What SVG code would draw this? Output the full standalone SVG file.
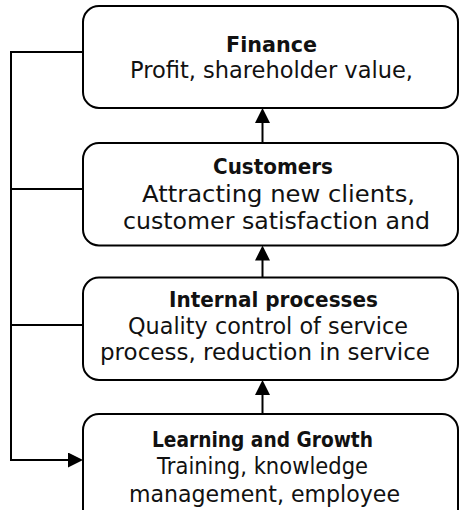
<svg xmlns="http://www.w3.org/2000/svg" width="459" height="510" viewBox="0 0 459 510">
<style>
.box{fill:#fff;stroke:#000;stroke-width:2}
.t{font-family:"DejaVu Sans","Liberation Sans",sans-serif;font-size:23px;fill:#111}
.b{font-family:"DejaVu Sans","Liberation Sans",sans-serif;font-size:21.5px;font-weight:bold;fill:#111}
.c{fill:none;stroke:#000;stroke-width:2}
</style>
<defs>
<marker id="ah" markerUnits="userSpaceOnUse" markerWidth="16" markerHeight="16" refX="12" refY="7.5" orient="auto">
<path d="M0,0 L15,7.5 L0,15 Z" fill="#000"/>
</marker>
</defs>
<g id="connectors">
<path class="c" d="M83,52 H11 V460 H80" marker-end="url(#ah)"/>
<path class="c" d="M83,189 H11"/>
<path class="c" d="M83,325 H11"/>
<path class="c" d="M262.5,143 V111" marker-end="url(#ah)"/>
<path class="c" d="M262.5,277.5 V248.5" marker-end="url(#ah)"/>
<path class="c" d="M262.5,414 V383" marker-end="url(#ah)"/>
</g>
<g id="finance">
<rect class="box" x="83" y="6" width="375" height="102" rx="16"/>
<text class="b" x="226" y="52" textLength="91" lengthAdjust="spacingAndGlyphs">Finance</text>
<text class="t" x="130" y="78" textLength="283" lengthAdjust="spacingAndGlyphs">Profit, shareholder value,</text>
</g>
<g id="customers">
<rect class="box" x="83" y="143" width="375" height="102.5" rx="16"/>
<text class="b" x="213" y="174" textLength="120" lengthAdjust="spacingAndGlyphs">Customers</text>
<text class="t" x="142" y="202" textLength="273" lengthAdjust="spacingAndGlyphs">Attracting new clients,</text>
<text class="t" x="123" y="229" textLength="307" lengthAdjust="spacingAndGlyphs">customer satisfaction and</text>
</g>
<g id="internal">
<rect class="box" x="83" y="277.5" width="375" height="102.5" rx="16"/>
<text class="b" x="169" y="307" textLength="209" lengthAdjust="spacingAndGlyphs">Internal processes</text>
<text class="t" x="128" y="334" textLength="280" lengthAdjust="spacingAndGlyphs">Quality control of service</text>
<text class="t" x="100" y="360" textLength="330" lengthAdjust="spacingAndGlyphs">process, reduction in service</text>
</g>
<g id="learning">
<rect class="box" x="83" y="414" width="375" height="115" rx="16"/>
<text class="b" x="152" y="447" textLength="221" lengthAdjust="spacingAndGlyphs">Learning and Growth</text>
<text class="t" x="157" y="474" textLength="211" lengthAdjust="spacingAndGlyphs">Training, knowledge</text>
<text class="t" x="129" y="502" textLength="271" lengthAdjust="spacingAndGlyphs">management, employee</text>
</g>
</svg>
